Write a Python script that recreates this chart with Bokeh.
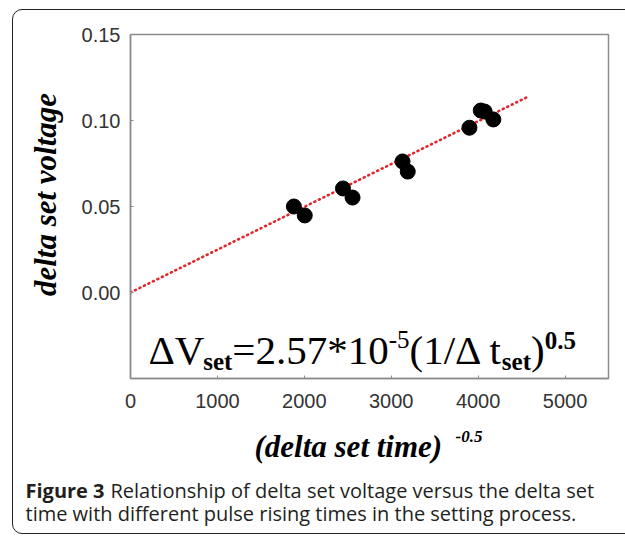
from bokeh.plotting import figure
from bokeh.models import Label, FixedTicker, PrintfTickFormatter, Range1d, InlineStyleSheet
from bokeh.embed import file_html
from bokeh.resources import INLINE

# ---- data ----
x_vals = [1880, 2005, 2445, 2555, 3130, 3190, 3900, 4030, 4075, 4175]
y_vals = [0.0500, 0.0448, 0.0605, 0.0552, 0.0762, 0.0703, 0.0958, 0.1058, 0.1052, 0.1006]
fit_x = [0, 4580]
fit_y = [0.0, 0.114]
x_ticks = [0, 1000, 2000, 3000, 4000, 5000]
y_ticks = [0.0, 0.05, 0.10, 0.15]

W, H = 625, 537
L, R, T, B = 130, 17, 34, 159

p = figure(width=W, height=H, output_backend="svg", toolbar_location=None,
           x_range=Range1d(0, 5500), y_range=Range1d(-0.05, 0.15),
           min_border_left=L, min_border_right=R, min_border_top=T, min_border_bottom=B)
p.xgrid.visible = False
p.ygrid.visible = False
p.background_fill_color = "white"
p.border_fill_color = "white"
p.outline_line_color = "#8c8c8c"
p.outline_line_width = 1.5

for ax in (p.xaxis[0], p.yaxis[0]):
    ax.axis_line_color = "#8c8c8c"
    ax.axis_line_width = 1.5
    ax.major_tick_line_color = "#8c8c8c"
    ax.major_tick_in = 3
    ax.major_tick_out = 0
    ax.minor_tick_line_color = None
    ax.major_label_text_font = "Liberation Sans"
    ax.major_label_text_font_size = "20px"
    ax.major_label_text_color = "#333333"

p.xaxis.ticker = FixedTicker(ticks=x_ticks)
p.yaxis.ticker = FixedTicker(ticks=y_ticks)
p.yaxis.formatter = PrintfTickFormatter(format="%.2f")
p.xaxis.major_label_standoff = 15
p.yaxis.major_label_standoff = 10

p.line(fit_x, fit_y, line_color="#e3262b", line_width=2.6, line_dash="1 4", line_cap="round")
p.scatter(x_vals, y_vals, size=15, fill_color="black", line_color="black")

SHIFT_EM = 0.3  # rendered alphabetic baseline sits this much lower than requested


def frame_label(text, cx, cy, size, font="Liberation Serif", style="normal", color="black"):
    lab = Label(x=cx - L, y=(H - B) - cy + SHIFT_EM * size, x_units="screen", y_units="screen", text=text,
                text_font=font, text_font_size=f"{size}px", text_font_style=style,
                text_align="left", text_baseline="alphabetic", text_color=color)
    p.add_layout(lab)


def outside_label(text, cx, cy, size, side, font="Liberation Serif", style="normal", align="left",
                  baseline="alphabetic", angle=0.0, color="black"):
    kw = dict(text=text, text_font=font, text_font_size=f"{size}px", text_font_style=style,
              text_align=align, text_baseline=baseline, angle=angle, text_color=color)
    if baseline == "alphabetic":
        cy = cy - SHIFT_EM * size
    try:
        lab = Label(x=cx, y=cy, x_units="canvas", y_units="canvas", **kw)
    except Exception:
        lab = Label(x=cx - L, y=(H - B) - cy, x_units="screen", y_units="screen", **kw)
    p.add_layout(lab, side)


# ---- equation inside the plot ----
main_fs, small_fs = 41, 25
eq_parts = [
    ("\u0394V", main_fs, "normal", 0, 1.334),
    ("set", small_fs, "bold", 6, 1.166),
    ("=2.57*10", main_fs, "normal", 0, 3.814),
    ("-5", small_fs, "normal", -16, 0.833),
    ("(1/\u0394 t", main_fs, "normal", 0, 2.251),
    ("set", small_fs, "bold", 6, 1.166),
    (")", main_fs, "normal", 0, 0.333),
    ("0.5", small_fs, "bold", -15, 1.25),
]
cx = 148.0
base_y = 362
for txt, fs, st, dy, em in eq_parts:
    frame_label(txt, cx, base_y + dy, fs, style=st)
    cx += em * fs

# ---- axis titles ----
outside_label("delta set voltage", 45, 194, 31, "left", style="bold italic", align="center",
              baseline="middle", angle=1.5707963)
outside_label("(delta set time)", 254, 455, 31, "below", style="bold italic")
outside_label("-0.5", 455, 441, 17, "below", style="bold italic")

# ---- caption ----
cap_col = "#231f20"
outside_label("Figure 3", 25, 496, 20, "below", font="Open Sans", style="bold", color=cap_col)
outside_label("Relationship of delta set voltage versus the delta set", 110, 496, 20, "below",
              font="Open Sans", color=cap_col)
outside_label("time with different pulse rising times in the setting process.", 25, 519, 20, "below",
              font="Open Sans", color=cap_col)

# ---- outer rounded frame of the figure panel ----
p.stylesheets = [InlineStyleSheet(css="""
:host { position: relative; overflow: hidden; }
:host::after { content: ''; position: absolute; left: 12px; top: 9px; width: 640px; height: 523px;
  border: 1.5px solid #222; border-radius: 10px; pointer-events: none; }
""")]

open("out.html", "w").write(file_html(p, INLINE))
